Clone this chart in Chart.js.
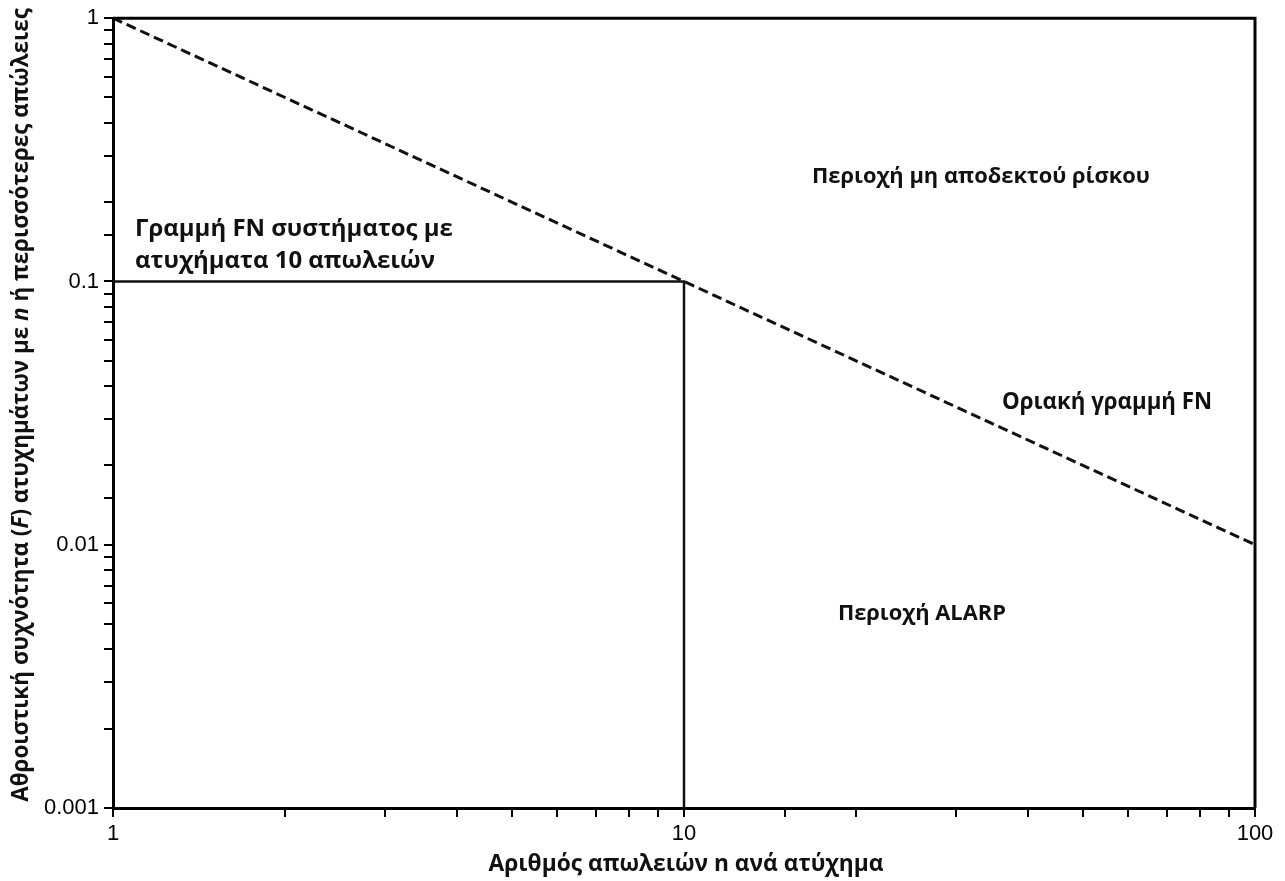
<!DOCTYPE html>
<html>
<head>
<meta charset="utf-8">
<script src="https://cdn.jsdelivr.net/npm/chart.js@4.4.1/dist/chart.umd.min.js"></script>
<style>
  html, body { margin: 0; padding: 0; background: #fff; }
</style>
</head>
<body>
<canvas id="fnChart" width="1285" height="881"></canvas>
<script>
// Δεδομένα
const limitN = [1, 100];
const limitF = [1, 0.01];
const systemN = [1, 10, 10];
const systemF = [0.1, 0.1, 0.001];
const xTickLabels = [1, 10, 100];
const yTickLabels = [0.001, 0.01, 0.1, 1];
const xTitle = 'Αριθμός απωλειών n ανά ατύχημα';
const yTitleParts = ['Αθροιστική συχνότητα (', 'F', ') ατυχημάτων με ', 'n', ' ή περισσότερες απώλειες'];
const yTitleItalic = [false, true, false, true, false];
const noteTexts = ['Περιοχή μη αποδεκτού ρίσκου', 'Γραμμή FN συστήματος με', 'ατυχήματα 10 απωλειών', 'Οριακή γραμμή FN', 'Περιοχή ALARP'];

const noteFont = '"Open Sans", "DejaVu Sans", sans-serif';

function labelIf(list) {
  return function (v) {
    let hit = list.find(t => Math.abs(v / t - 1) < 1e-6);
    return hit !== undefined ? String(hit) : '';
  };
}

// tamaño de letra para que un texto ocupe un ancho dado
function fitSize(ctx, text, width) {
  ctx.font = 'bold 20px ' + noteFont;
  return 20 * width / ctx.measureText(text).width;
}

const extras = {
  id: 'extras',
  afterDraw(chart) {
    const ctx = chart.ctx;
    const a = chart.chartArea;
    const x = chart.scales.x, y = chart.scales.y;
    ctx.save();

    // marco superior y derecho
    ctx.strokeStyle = '#000';
    ctx.lineWidth = 3;
    ctx.beginPath();
    ctx.moveTo(a.left, a.top);
    ctx.lineTo(a.right, a.top);
    ctx.lineTo(a.right, a.bottom);
    ctx.stroke();

    ctx.fillStyle = '#111';
    ctx.textBaseline = 'middle';

    // título Y con F y n en cursiva
    const fontFor = (i, s) => (yTitleItalic[i] ? 'italic ' : '') + 'bold ' + s + 'px ' + noteFont;
    const widthAt = s => yTitleParts.reduce((w, p, i) => { ctx.font = fontFor(i, s); return w + ctx.measureText(p).width; }, 0);
    const ySize = 17 * 794 / widthAt(17);
    const total = widthAt(ySize);
    ctx.translate(22, (8 + 802) / 2);
    ctx.rotate(-Math.PI / 2);
    ctx.textAlign = 'left';
    let cx = -total / 2;
    yTitleParts.forEach((p, i) => {
      ctx.font = fontFor(i, ySize);
      ctx.fillText(p, cx, 0);
      cx += ctx.measureText(p).width;
    });
    ctx.setTransform(1, 0, 0, 1, 0, 0);

    // título X
    ctx.font = 'bold ' + fitSize(ctx, xTitle, 395) + 'px ' + noteFont;
    ctx.textAlign = 'center';
    ctx.fillText(xTitle, (a.left + a.right) / 2 + 2, 865);

    // notas dentro del área
    const s1 = fitSize(ctx, noteTexts[0], 338);
    const s2 = fitSize(ctx, noteTexts[1], 318);
    const s4 = fitSize(ctx, noteTexts[3], 210);
    const anchors = [
      [16.76, 0.250, 'left', s1],
      [1.093, 0.1574, 'left', s2],
      [1.093, 0.119, 'left', s2],
      [36.06, 0.0345, 'left', s4],
      [18.6, 0.00548, 'left', s1]
    ];
    noteTexts.forEach((t, i) => {
      ctx.font = 'bold ' + anchors[i][3] + 'px ' + noteFont;
      ctx.textAlign = anchors[i][2];
      ctx.fillText(t, x.getPixelForValue(anchors[i][0]), y.getPixelForValue(anchors[i][1]));
    });
    ctx.restore();
  }
};

const axisCommon = {
  type: 'logarithmic',
  grid: { drawOnChartArea: false, drawTicks: true, tickLength: 9, color: '#000', lineWidth: 2 },
  border: { color: '#000', width: 3 },
};

new Chart(document.getElementById('fnChart'), {
  type: 'line',
  data: {
    datasets: [
      {
        label: 'Οριακή γραμμή FN',
        data: limitN.map((n, i) => ({ x: n, y: limitF[i] })),
        borderColor: '#111',
        borderWidth: 3,
        borderDash: [10, 5],
        pointRadius: 0,
        fill: false
      },
      {
        label: 'Γραμμή FN συστήματος',
        data: systemN.map((n, i) => ({ x: n, y: systemF[i] })),
        borderColor: '#111',
        borderWidth: 2.5,
        pointRadius: 0,
        fill: false
      }
    ]
  },
  options: {
    responsive: false,
    animation: false,
    devicePixelRatio: 1,
    layout: { padding: { top: 16, right: 30, left: 0, bottom: 0 } },
    plugins: { legend: { display: false }, tooltip: { enabled: false } },
    scales: {
      x: Object.assign({}, axisCommon, {
        min: 1, max: 100, position: 'bottom',
        ticks: { color: '#000', font: { family: '"Liberation Sans", Arial, sans-serif', size: 22 }, padding: 4, autoSkip: false, maxRotation: 0, callback: labelIf(xTickLabels) },
        afterFit: s => { s.height = 73; }
      }),
      y: Object.assign({}, axisCommon, {
        min: 0.001, max: 1,
        ticks: { color: '#000', font: { family: '"Liberation Sans", Arial, sans-serif', size: 22 }, padding: 5, autoSkip: false, callback: labelIf(yTickLabels) },
        afterFit: s => { s.width = 113; }
      })
    }
  },
  plugins: [extras]
});
</script>
</body>
</html>
